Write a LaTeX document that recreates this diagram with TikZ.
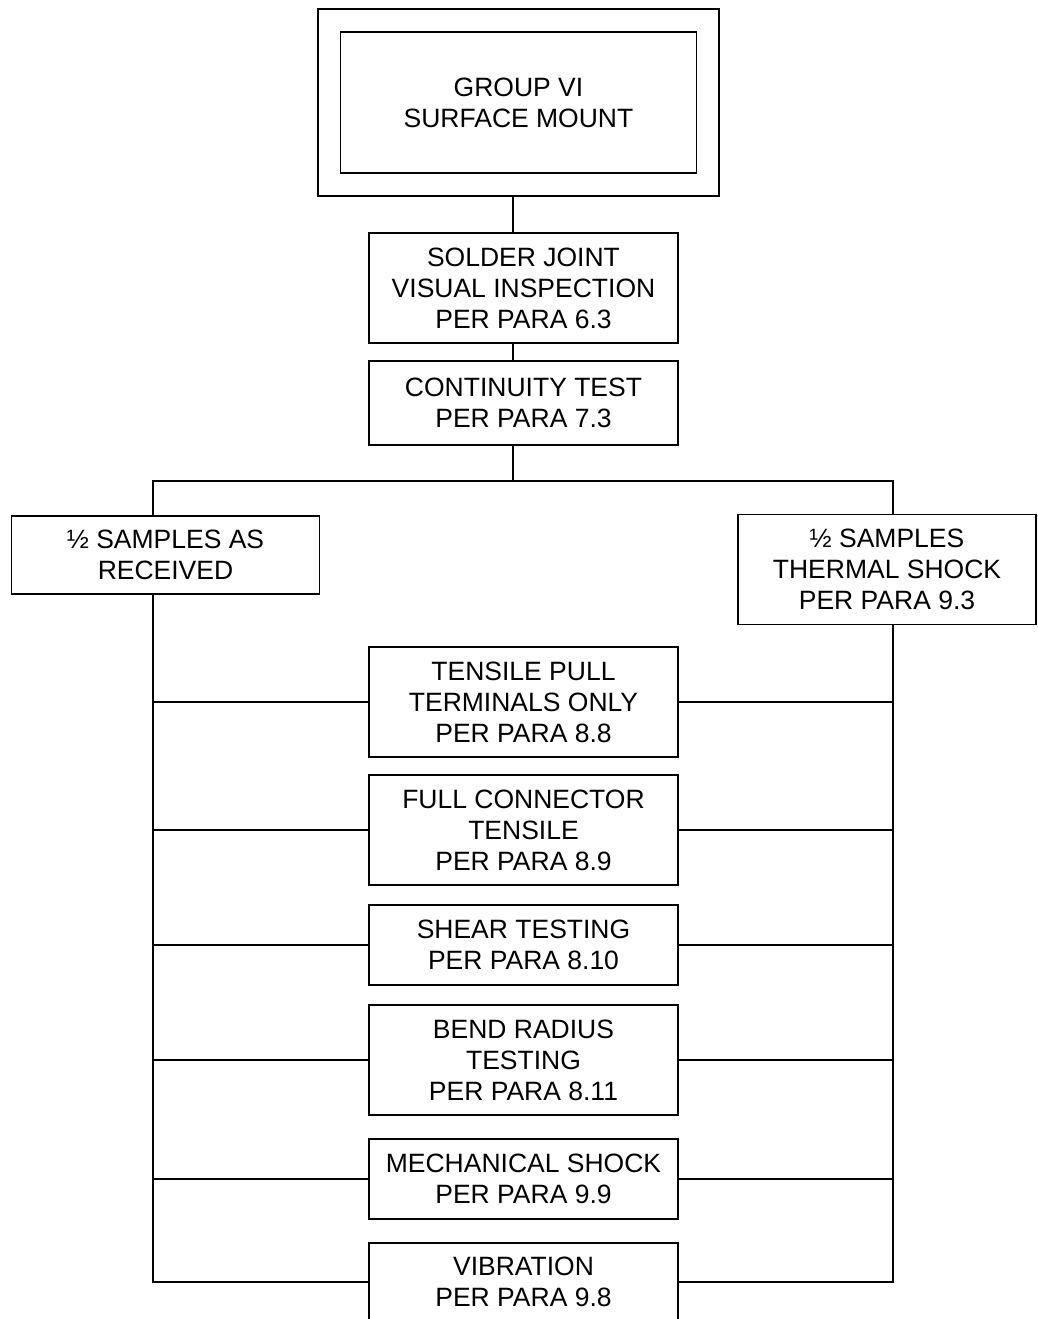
\documentclass[tikz,border=0pt]{standalone}
\usepackage{fontspec}
\setmainfont{Liberation Sans}
\usepackage{tikz}
\usetikzlibrary{positioning}

\begin{document}
\begin{tikzpicture}[
  x=1pt, y=-1pt,
  node distance=18pt,
  box/.style={draw, line width=1.5pt, align=center, minimum width=309pt,
    inner sep=0pt, outer sep=0pt, font=\fontsize{26.5}{31}\selectfont},
  tallbox/.style={box, minimum height=110pt},
  shortbox/.style={box, minimum height=80pt},
  wire/.style={line width=1.5pt}
]
  \useasboundingbox (0,0) rectangle (1037,1319);

  % top block
  \node[draw, line width=2.2pt, outer sep=0pt, minimum width=401pt, minimum height=187pt] (grp) at (518.5,102.5) {};
  \node[box, minimum width=356pt, minimum height=141pt] (title) at (grp) {GROUP VI\\SURFACE MOUNT};

  \node[tallbox, below=37pt of grp, xshift=5pt] (sj) {SOLDER JOINT\\VISUAL INSPECTION\\PER PARA 6.3};
  \node[shortbox, below=18pt of sj, minimum height=84pt] (ct) {CONTINUITY TEST\\PER PARA 7.3};

  % the two halves
  \node[box, minimum width=308pt, minimum height=78pt] (asr) at (165.5,555) {½ SAMPLES AS\\RECEIVED};
  \node[box, minimum width=298pt, minimum height=110pt] (ths) at (887,569.5) {½ SAMPLES\\THERMAL SHOCK\\PER PARA 9.3};

  % tests
  \node[tallbox, below=202pt of ct] (tp) {TENSILE PULL\\TERMINALS ONLY\\PER PARA 8.8};
  \node[tallbox, below=18pt of tp] (fc) {FULL CONNECTOR\\TENSILE\\PER PARA 8.9};
  \node[shortbox, below=20pt of fc] (sh) {SHEAR TESTING\\PER PARA 8.10};
  \node[tallbox, below=20pt of sh] (br) {BEND RADIUS\\TESTING\\PER PARA 8.11};
  \node[shortbox, below=24pt of br] (ms) {MECHANICAL SHOCK\\PER PARA 9.9};
  \node[shortbox, below=24pt of ms, minimum height=78pt] (vb) {VIBRATION\\PER PARA 9.8};

  \coordinate (spine) at (513,481);
  \coordinate (lbus) at (153,0);
  \coordinate (rbus) at (893,0);

  \draw[wire] (spine |- grp.south) -- (spine |- sj.north);
  \draw[wire] (spine |- sj.south) -- (spine |- ct.north);
  \draw[wire] (spine |- ct.south) -- (spine);
  \draw[wire] (lbus |- asr.north) |- (spine) -| (rbus |- ths.north);

  \draw[wire] (lbus |- asr.south) |- (vb.west);
  \draw[wire] (rbus |- ths.south) |- (vb.east);
  \foreach \n in {tp,fc,sh,br,ms}
    \draw[wire] (lbus |- \n.west) -- (\n.west) (\n.east) -- (rbus |- \n.east);
\end{tikzpicture}
\end{document}
